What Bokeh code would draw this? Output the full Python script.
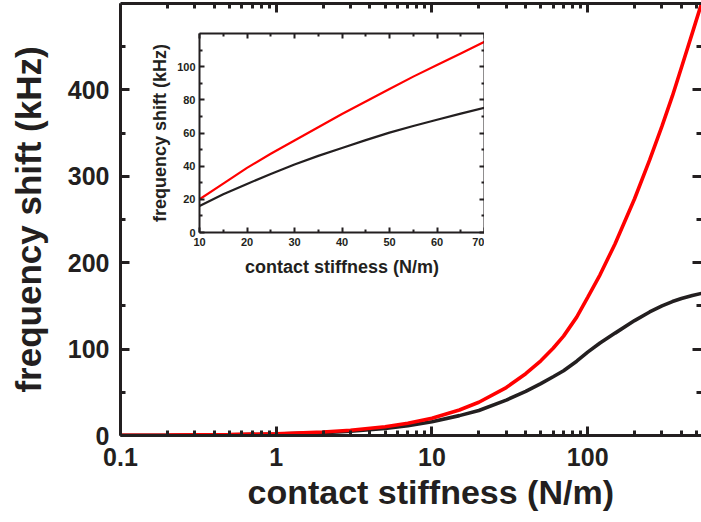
from bokeh.plotting import figure
from bokeh.models import (LinearAxis, LogAxis, FixedTicker, CustomJSTickFormatter,
                          GridBox, Range1d, Title)
from bokeh.embed import file_html
from bokeh.resources import INLINE

# Main panel: frequency shift vs contact stiffness (log axis)
stiffness = [0.1, 0.2, 0.5, 1, 2, 3, 5, 7, 10, 15, 20, 30, 40, 50, 60, 70, 85, 100,
             120, 150, 200, 250, 300, 350, 400, 470, 538]
shift_red = [0.2, 0.4, 1.0, 2.0, 4.0, 6.0, 10.1, 14.1, 20.0, 29.5, 38.5, 55.5, 71.5,
             86.5, 101, 115, 137, 160, 186, 222, 274, 319, 358, 393, 426, 466, 500]
shift_black = [0.16, 0.33, 0.8, 1.6, 3.3, 4.9, 8.1, 11.3, 16, 23, 29, 41, 51, 60, 68,
               75, 86, 96.5, 107, 118.5, 133, 143, 150, 155, 158.5, 162, 164.5]

x_major = [0.1, 1, 10, 100]
x_minor = [0.2, 0.3, 0.4, 0.5, 0.6, 0.7, 0.8, 0.9,
           2, 3, 4, 5, 6, 7, 8, 9,
           20, 30, 40, 50, 60, 70, 80, 90,
           200, 300, 400, 500]
y_major = [0, 100, 200, 300, 400]
y_minor = [50, 150, 250, 350, 450]

# Inset: linear zoom on 10-70 N/m
inset_k = [10, 15, 20, 25, 30, 35, 40, 45, 50, 55, 60, 65, 70]
inset_red = [20, 29.5, 39, 47.5, 55.5, 63.5, 71.5, 79, 86.5, 94, 101, 108, 115]
inset_black = [16, 23, 29.3, 35.3, 41, 46.2, 51, 55.7, 60.2, 64.2, 68, 71.7, 75.2]

inset_x_major = [10, 20, 30, 40, 50, 60, 70]
inset_x_minor = [15, 25, 35, 45, 55, 65]
inset_y_major = [0, 20, 40, 60, 80, 100]
inset_y_minor = [10, 30, 50, 70, 90, 110]

INK = "#231f20"
RED = "#ff0000"
FONT = "Liberation Sans"


def style_axis(ax, label_size, tick_in, minor_in, width, standoff,
               show_line=True, show_labels=True):
    ax.axis_line_color = INK if show_line else None
    ax.axis_line_width = width
    ax.major_tick_line_color = INK
    ax.minor_tick_line_color = INK
    ax.major_tick_line_width = width
    ax.minor_tick_line_width = width
    ax.major_tick_in = tick_in
    ax.major_tick_out = 0
    ax.minor_tick_in = minor_in
    ax.minor_tick_out = 0
    ax.major_label_text_font = FONT
    ax.major_label_text_font_style = "bold"
    ax.major_label_text_font_size = label_size
    ax.major_label_text_color = INK if show_labels else None
    ax.major_label_standoff = standoff
    ax.axis_label_text_font = FONT
    ax.axis_label_text_font_style = "bold"
    ax.axis_label_text_color = INK


fmt = CustomJSTickFormatter(code="return tick.toString();")

p = figure(width=701, height=522, x_axis_type="log",
           x_range=Range1d(0.1, 538), y_range=Range1d(0, 500),
           output_backend="svg", toolbar_location=None,
           min_border_left=120, min_border_right=0,
           min_border_top=3, min_border_bottom=87)
p.outline_line_color = None
p.grid.visible = False
p.background_fill_color = "white"
p.border_fill_color = "white"

xt = FixedTicker(ticks=x_major, minor_ticks=x_minor)
yt = FixedTicker(ticks=y_major, minor_ticks=y_minor)

bx = p.xaxis[0]
bx.ticker = xt
bx.formatter = fmt
style_axis(bx, "25px", 9, 5, 3, 12)

ly = p.yaxis[0]
ly.ticker = yt
style_axis(ly, "25px", 9, 5, 3, 11)
ly.axis_label = "frequency shift (kHz)"
ly.axis_label_text_font_size = "35px"
ly.axis_label_standoff = 17

tx = LogAxis(ticker=xt, formatter=fmt)
style_axis(tx, "10px", 9, 5, 3, 0, show_labels=False)
p.add_layout(tx, "above")

ry = LinearAxis(ticker=yt)
style_axis(ry, "10px", 9, 5, 3, 0, show_line=False, show_labels=False)
p.add_layout(ry, "right")

# x-axis title, set a little right of the frame centre
xtitle = Title(text="contact stiffness (N/m)", align="left", offset=127,
               text_font=FONT, text_font_style="bold", text_font_size="34px",
               text_color=INK, standoff=4)
p.add_layout(xtitle, "below")

p.line(stiffness, shift_black, line_color=INK, line_width=3.6)
p.line(stiffness, shift_red, line_color=RED, line_width=3.6)

# Inset figure (its side borders line up with the main figure's in the grid)
q = figure(width=405, height=289, x_range=Range1d(10, 70), y_range=Range1d(0, 120),
           output_backend="svg", toolbar_location=None,
           min_border_left=120, min_border_right=0,
           min_border_top=3, min_border_bottom=87,
           margin=(30, 0, 0, 79))
q.outline_line_color = None
q.grid.visible = False
q.background_fill_color = "white"
q.border_fill_alpha = 0

ixt = FixedTicker(ticks=inset_x_major, minor_ticks=inset_x_minor)
iyt = FixedTicker(ticks=inset_y_major, minor_ticks=inset_y_minor)

qb = q.xaxis[0]
qb.ticker = ixt
style_axis(qb, "11px", 5, 3, 2, 5)
qb.axis_label = "contact stiffness (N/m)"
qb.axis_label_text_font_size = "18px"
qb.axis_label_standoff = 8

ql = q.yaxis[0]
ql.ticker = iyt
style_axis(ql, "11px", 5, 3, 2, 4)
ql.axis_label = "frequency shift (kHz)"
ql.axis_label_text_font_size = "18px"
ql.axis_label_standoff = 4

qt = LinearAxis(ticker=ixt)
style_axis(qt, "10px", 5, 3, 2, 0, show_labels=False)
q.add_layout(qt, "above")

qr = LinearAxis(ticker=iyt)
style_axis(qr, "10px", 5, 3, 2, 0, show_labels=False)
q.add_layout(qr, "right")

q.line(inset_k, inset_black, line_color=INK, line_width=2.2)
q.line(inset_k, inset_red, line_color=RED, line_width=2.2)

layout = GridBox(children=[(p, 0, 0), (q, 0, 0)])

open("out.html", "w").write(file_html(layout, INLINE))
